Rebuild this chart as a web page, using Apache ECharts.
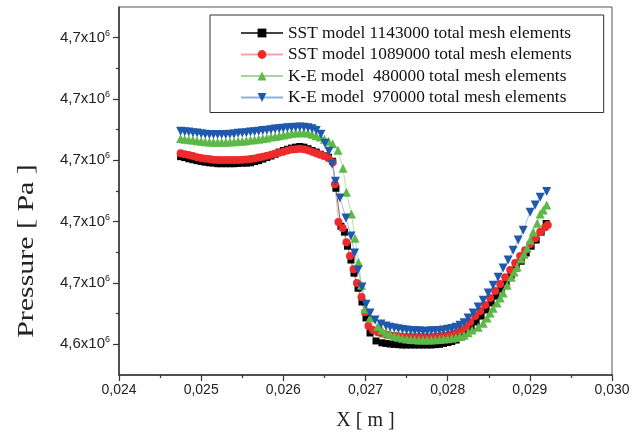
<!DOCTYPE html>
<html>
<head>
<meta charset="utf-8">
<script src="https://cdn.jsdelivr.net/npm/echarts@6/dist/echarts.min.js"></script>
<style>html,body{margin:0;padding:0;background:#fff}#chart{width:641px;height:438px}</style>
</head>
<body>
<div id="chart"></div>
<script>
// ---- data ----
const seriesNames = [
  'SST model 1143000 total mesh elements',
  'SST model 1089000 total mesh elements',
  'K-E model  480000 total mesh elements',
  'K-E model  970000 total mesh elements'
];
const xTickValues = [0.024, 0.025, 0.026, 0.027, 0.028, 0.029, 0.030];
const yTickValues = [4640000, 4660000, 4680000, 4700000, 4720000, 4740000];
const yMinorTickValues = [4650000, 4670000, 4690000, 4710000, 4730000];

// SST 1143000 (black squares)
const xSST1143 = [0.02475,0.02480,0.02485,0.02490,0.02495,0.02500,0.02505,0.02510,0.02515,0.02520,0.02525,0.02530,0.02535,0.02540,0.02545,0.02550,0.02555,0.02560,0.02565,0.02570,0.02575,0.02580,0.02585,0.02590,0.02595,0.02600,0.02605,0.02610,0.02615,0.02620,0.02625,0.02630,0.02635,0.02640,0.02645,0.02650,0.02655,0.02660,
  0.026640,0.026701,0.026744,0.026781,0.026823,0.026860,0.026909,0.026957,0.027006,0.027055,0.027128,
  0.02720,0.02725,0.02730,0.02735,0.02740,0.02745,0.02750,0.02755,0.02760,0.02765,0.02770,0.02775,0.02780,0.02785,0.02790,0.02795,0.02800,0.02805,
  0.028103,0.028164,0.028224,0.028285,0.028346,0.028407,0.028468,0.028529,0.028590,0.028651,0.028712,0.028773,0.028834,0.028895,0.028956,0.029016,0.029077,0.029138,0.029199];
const pSST1143 = [4701200,4700900,4700500,4700200,4699900,4699600,4699400,4699200,4699100,4698900,4698900,4698900,4698900,4698900,4699000,4699100,4699100,4699200,4699600,4699900,4700400,4700900,4701400,4702000,4702700,4703200,4703600,4704000,4704300,4704500,4704300,4703800,4703200,4702700,4702000,4701500,4701000,4699700,
  4690900,4678500,4676600,4672000,4667500,4663200,4658300,4653800,4648600,4643700,4641100,
  4640500,4640300,4640100,4640000,4639900,4639800,4639800,4639800,4639800,4639800,4639800,4639800,4639800,4639900,4640000,4640300,4640600,4640900,
  4641400,4642400,4643700,4645300,4647300,4649200,4651200,4653500,4655700,4658000,4660300,4662600,4664900,4667100,4669800,4672000,4674000,4676600,4679400];

// SST 1089000 (red circles)
const xSST1089 = [0.02475,0.02480,0.02485,0.02490,0.02495,0.02500,0.02505,0.02510,0.02515,0.02520,0.02525,0.02530,0.02535,0.02540,0.02545,0.02550,0.02555,0.02560,0.02565,0.02570,0.02575,0.02580,0.02585,0.02590,0.02595,0.02600,0.02605,0.02610,0.02615,0.02620,0.02625,0.02630,0.02635,0.02640,0.02645,0.02650,0.02655,0.02660,
  0.026628,0.026671,0.026720,0.026768,0.026811,0.026854,0.026896,0.026951,0.026994,0.027036,0.027091,
  0.02715,0.02720,0.02725,0.02730,0.02735,0.02740,0.02745,0.02750,0.02755,0.02760,0.02765,0.02770,0.02775,0.02780,0.02785,0.02790,0.02795,0.02800,0.02805,
  0.028103,0.028164,0.028224,0.028273,0.028334,0.028395,0.028456,0.028517,0.028578,0.028639,0.028700,0.028761,0.028822,0.028882,0.028943,0.029004,0.029065,0.029126,0.029187,0.029218];
const pSST1089 = [4702300,4702000,4701700,4701400,4701000,4700800,4700500,4700400,4700200,4700100,4700100,4700100,4700100,4700100,4700100,4700200,4700300,4700400,4700600,4700900,4701200,4701500,4701800,4702200,4702500,4702800,4703200,4703500,4703600,4703800,4703600,4703300,4702800,4702300,4701800,4701400,4700700,4699400,
  4692200,4679900,4677900,4673300,4668800,4664500,4660000,4655400,4650500,4646000,4644700,
  4643900,4643500,4643200,4643000,4642800,4642600,4642500,4642400,4642400,4642400,4642400,4642400,4642400,4642400,4642500,4642600,4642800,4643000,4643300,
  4643700,4644700,4645600,4647300,4649200,4650900,4652800,4655100,4657400,4659700,4661900,4664200,4666500,4668800,4670700,4672700,4674600,4676600,4678200,4678900];

// K-E 480000 (green triangles)
const xKE480 = [0.02475,0.02480,0.02485,0.02490,0.02495,0.02500,0.02505,0.02510,0.02515,0.02520,0.02525,0.02530,0.02535,0.02540,0.02545,0.02550,0.02555,0.02560,0.02565,0.02570,0.02575,0.02580,0.02585,0.02590,0.02595,0.02600,0.02605,0.02610,0.02615,0.02620,0.02625,0.02630,0.02635,0.02640,0.02645,0.02650,0.02655,0.02660,
  0.026665,0.026726,0.026768,0.026829,0.026872,0.026915,0.026951,0.026994,0.027055,
  0.02715,0.02720,0.02725,0.02730,0.02735,0.02740,0.02745,0.02750,0.02755,0.02760,0.02765,0.02770,0.02775,0.02780,0.02785,0.02790,0.02795,0.02800,0.02805,0.02810,0.02815,0.02820,0.02825,
  0.028298,0.028371,0.028432,0.028480,0.028517,0.028553,0.028602,0.028639,0.028675,0.028724,0.028773,0.028809,0.028846,0.028895,0.028931,0.028968,0.029004,0.029041,0.029090,0.029126,0.029163,0.029205];
const pKE480 = [4707100,4706900,4706700,4706600,4706400,4706200,4706100,4706000,4705900,4705900,4705900,4705900,4706000,4706100,4706200,4706200,4706400,4706600,4706700,4706900,4707100,4707300,4707600,4707800,4708000,4708300,4708500,4708800,4708900,4709000,4709000,4708900,4708500,4708000,4707600,4706900,4706200,4705400,
  4703300,4697400,4689600,4682500,4674600,4666800,4659300,4651500,4648600,
  4645800,4644700,4643800,4643200,4642700,4642300,4642000,4641700,4641600,4641500,4641400,4641400,4641400,4641400,4641500,4641600,4641700,4641800,4642000,4642200,4642600,4643000,4643800,
  4644700,4645600,4646900,4648600,4650200,4651800,4653500,4655100,4656700,4659300,4661900,4663600,4665200,4667800,4669400,4671400,4674000,4676600,4679500,4682500,4683800,4685400];

// K-E 970000 (blue inverted triangles)
const xKE970 = [0.02475,0.02480,0.02485,0.02490,0.02495,0.02500,0.02505,0.02510,0.02515,0.02520,0.02525,0.02530,0.02535,0.02540,0.02545,0.02550,0.02555,0.02560,0.02565,0.02570,0.02575,0.02580,0.02585,0.02590,0.02595,0.02600,0.02605,0.02610,0.02615,0.02620,0.02625,0.02630,0.02635,0.02640,
  0.026458,0.026506,0.026555,0.026592,0.026634,0.026689,0.026762,0.026823,0.026866,0.026909,0.026957,0.027006,0.027055,0.027116,0.027189,
  0.02725,0.02730,0.02735,0.02740,0.02745,0.02750,0.02755,0.02760,0.02765,0.02770,0.02775,0.02780,0.02785,0.02790,0.02795,0.02800,0.02805,0.02810,0.02815,0.02820,
  0.028249,0.028310,0.028371,0.028432,0.028493,0.028553,0.028614,0.028675,0.028736,0.028797,0.028858,0.028919,0.029004,0.029065,0.029126,0.029205];
const pKE970 = [4709500,4709300,4709200,4709000,4708900,4708700,4708500,4708400,4708400,4708400,4708400,4708400,4708500,4708600,4708800,4708900,4709000,4709200,4709300,4709500,4709700,4709800,4710000,4710200,4710300,4710500,4710600,4710700,4710800,4710900,4710800,4710600,4710300,4709700,
  4708500,4705600,4703000,4698800,4693200,4687700,4681200,4675300,4669800,4664200,4658700,4653100,4650200,4647900,4646600,
  4646000,4645600,4645300,4645100,4644800,4644700,4644500,4644400,4644400,4644300,4644300,4644400,4644400,4644500,4644700,4644900,4645200,4645600,4646200,4647000,
  4648600,4650200,4652200,4654400,4656700,4659300,4661900,4664900,4667500,4670700,4674000,4677200,4683100,4685400,4688000,4689800];

// ---- chart ----
const zip = (xs, ps) => xs.map((x, i) => [x, ps[i]]);
const chart = echarts.init(document.getElementById('chart'), null, {renderer: 'canvas'});
const axisColor = '#333';
const mk = (name, xs, ps, color, lineColor, symbol, size, rotate) => ({
  name, type: 'line', data: zip(xs, ps),
  symbol, symbolSize: size, symbolRotate: rotate || 0, showAllSymbol: true,
  itemStyle: {color: color},
  lineStyle: {color: lineColor, width: 0.8},
  emphasis: {disabled: true}, animation: false
});

chart.setOption({
  animation: false,
  grid: {left: 119, right: 29, top: 7, bottom: 63, show: true, borderColor: '#555', borderWidth: 1},
  legend: {
    orient: 'vertical', left: 210, top: 15,
    padding: [8, 32, 5, 30], itemGap: 1.5, itemWidth: 42, itemHeight: 11,
    borderColor: '#333', borderWidth: 1, backgroundColor: '#fff',
    textStyle: {fontFamily: 'Liberation Serif', fontSize: 17.3, color: '#111', lineHeight: 20},
    data: seriesNames
  },
  xAxis: {
    type: 'value', min: 0.024, max: 0.030, interval: 0.001,
    name: 'X [ m ]', nameLocation: 'middle', nameGap: 36,
    nameTextStyle: {fontFamily: 'Liberation Serif', fontSize: 20, color: '#222'},
    axisLine: {show: true, lineStyle: {color: axisColor, width: 1.5}},
    axisTick: {show: true, length: 6, lineStyle: {color: axisColor, width: 1.2}},
    minorTick: {show: true, splitNumber: 2, length: 3, lineStyle: {color: axisColor, width: 1.2}},
    axisLabel: {margin: 8, fontFamily: 'Liberation Sans', fontSize: 14, color: '#222',
      formatter: v => v.toFixed(3).replace('.', ',')},
    splitLine: {show: false}
  },
  yAxis: [{
    type: 'value', min: 4630000, max: 4750000, interval: 10000,
    axisLine: {show: true, lineStyle: {color: axisColor, width: 1.5}},
    axisTick: {show: true, customValues: yTickValues, length: 6, lineStyle: {color: axisColor, width: 1.2}},
    axisLabel: {customValues: yTickValues, margin: 9, color: '#222',
      formatter: v => '{a|' + (v / 1e6).toFixed(1).replace('.', ',') + 'x10}{s|6}',
      rich: {
        a: {fontFamily: 'Liberation Sans', fontSize: 15, color: '#222'},
        s: {fontFamily: 'Liberation Sans', fontSize: 9, color: '#222', padding: [0, 0, 9, 0]}
      }},
    splitLine: {show: false}
  }, {
    type: 'value', min: 4630000, max: 4750000, interval: 10000, position: 'left',
    axisLine: {show: false},
    axisTick: {show: true, customValues: yMinorTickValues, length: 3, lineStyle: {color: axisColor, width: 1.2}},
    axisLabel: {show: false},
    splitLine: {show: false}
  }],
  graphic: [{
    type: 'text', x: 27, y: 251, rotation: Math.PI / 2, scaleX: 1.3, scaleY: 1,
    style: {text: 'Pressure [ Pa ]', font: '23px "Liberation Serif"', fill: '#222', align: 'center', verticalAlign: 'middle'}
  }],
  series: [
    mk(seriesNames[0], xSST1143, pSST1143, '#000000', '#444444', 'rect', 7),
    mk(seriesNames[1], xSST1089, pSST1089, '#ee2a2a', '#f4a3a3', 'circle', 8),
    mk(seriesNames[2], xKE480, pKE480, '#5cb947', '#a3d898', 'triangle', 9),
    mk(seriesNames[3], xKE970, pKE970, '#1f59ab', '#8fb0de', 'triangle', 9, 180)
  ]
});
</script>
</body>
</html>
